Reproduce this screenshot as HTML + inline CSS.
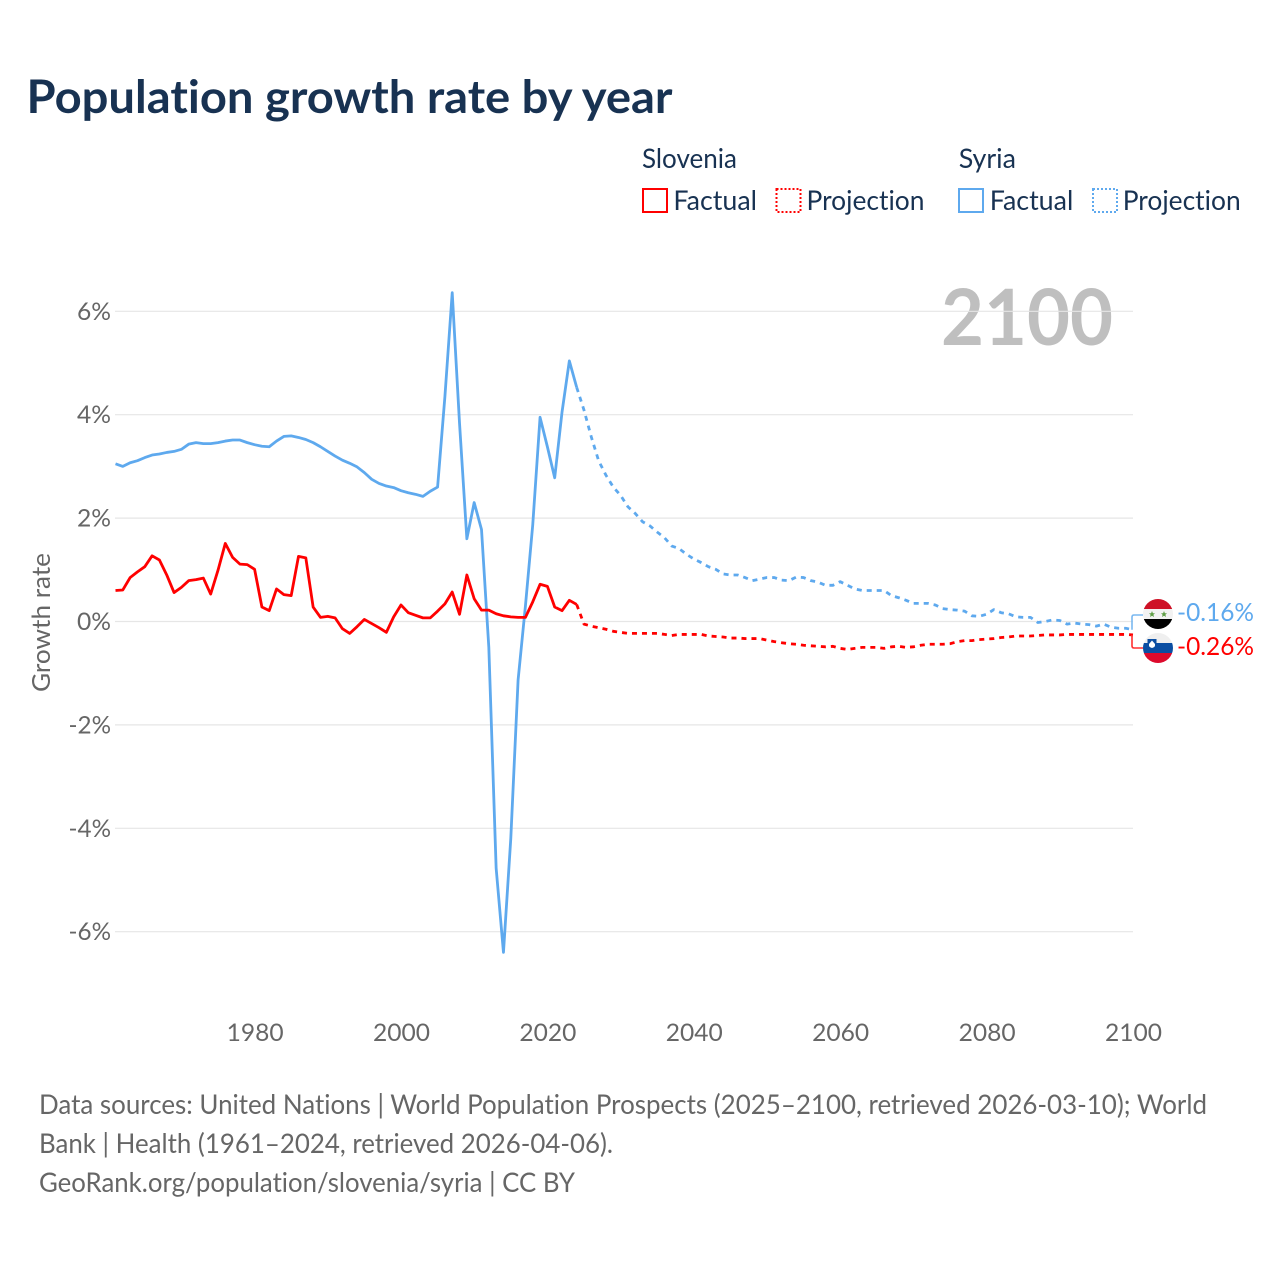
<!DOCTYPE html>
<html lang="en">
<head>
<meta charset="utf-8">
<title>Population growth rate by year</title>
<style>
  html, body { margin: 0; padding: 0; background: #fff; }
  svg { display: block; }
  text { font-family: "Lato", "Carlito", "Liberation Sans", sans-serif; font-variant-ligatures: none; }
</style>
</head>
<body>
<svg id="chart" xmlns="http://www.w3.org/2000/svg" width="1280" height="1280" viewBox="0 0 1280 1280">
  <rect width="1280" height="1280" fill="#ffffff"/>
  <text x="26.5" y="113" font-size="46" font-weight="700" fill="#183252" textLength="646" lengthAdjust="spacingAndGlyphs">Population growth rate by year</text>

  <g font-size="27" fill="#183252">
    <text x="642" y="168" textLength="95" lengthAdjust="spacingAndGlyphs">Slovenia</text>
    <rect x="643" y="189" width="24" height="23" fill="none" stroke="#ff0000" stroke-width="2"/>
    <text x="673.4" y="210" textLength="83.6" lengthAdjust="spacingAndGlyphs">Factual</text>
    <rect x="776.5" y="189" width="24" height="23" fill="none" stroke="#ff0000" stroke-width="2" stroke-dasharray="2 2"/>
    <text x="806.5" y="210" textLength="118" lengthAdjust="spacingAndGlyphs">Projection</text>
    <text x="958.7" y="168" textLength="57.3" lengthAdjust="spacingAndGlyphs">Syria</text>
    <rect x="959" y="189" width="24" height="23" fill="none" stroke="#5ea9ee" stroke-width="2"/>
    <text x="989.7" y="210" textLength="83.6" lengthAdjust="spacingAndGlyphs">Factual</text>
    <rect x="1093" y="189" width="24" height="23" fill="none" stroke="#5ea9ee" stroke-width="2" stroke-dasharray="2 2"/>
    <text x="1122.7" y="210" textLength="118" lengthAdjust="spacingAndGlyphs">Projection</text>
  </g>

  <text x="941" y="345" font-size="78" font-weight="700" fill="#bfbfbf" textLength="172" lengthAdjust="spacingAndGlyphs">2100</text>
  <g id="grid"></g>
  <g id="y-ticks"></g>
  <g id="x-ticks"></g>
  <text transform="translate(50 622.5) rotate(-90)" text-anchor="middle" font-size="25" fill="#666666" textLength="139" lengthAdjust="spacingAndGlyphs">Growth rate</text>

  <g id="series"></g>
  <g id="connectors"></g>

  <defs>
    <clipPath id="flag-clip-syria"><circle cx="1158" cy="614" r="15"/></clipPath>
    <clipPath id="flag-clip-slovenia"><circle cx="1158" cy="648" r="15"/></clipPath>
  </defs>
  <g clip-path="url(#flag-clip-syria)">
    <rect x="1143" y="599" width="30" height="10" fill="#ce1126"/>
    <rect x="1143" y="609" width="30" height="10" fill="#f2f2f2"/>
    <rect x="1143" y="619" width="30" height="10" fill="#000000"/>
    <polygon points="1152,611 1152.9,613.2 1155,613.3 1153.4,614.8 1154,617 1152,615.8 1150,617 1150.6,614.8 1149,613.3 1151.1,613.2" fill="#5f9e46"/>
    <polygon points="1164,611 1164.9,613.2 1167,613.3 1165.4,614.8 1166,617 1164,615.8 1162,617 1162.6,614.8 1161,613.3 1163.1,613.2" fill="#5f9e46"/>
  </g>
  <g clip-path="url(#flag-clip-slovenia)">
    <rect x="1143" y="633" width="30" height="10" fill="#efefef"/>
    <rect x="1143" y="643" width="30" height="10" fill="#0b4ea2"/>
    <rect x="1143" y="653" width="30" height="10" fill="#dd0a2c"/>
    <path d="M1147.5 639 H1156.5 V645 Q1156.5 648.5 1152 650 Q1147.5 648.5 1147.5 645 Z" fill="#0b4ea2"/>
    <path d="M1149 644 L1152 640.5 L1155 644 V645.5 Q1155 647.2 1152 648 Q1149 647.2 1149 645.5 Z" fill="#ffffff"/>
  </g>
  <text id="label-syria" x="1177" y="621" font-size="25" fill="#5ea9ee" textLength="77" lengthAdjust="spacingAndGlyphs"></text>
  <text id="label-slovenia" x="1177" y="655" font-size="25" fill="#ff0000" textLength="77" lengthAdjust="spacingAndGlyphs"></text>

  <g font-size="27" fill="#666666">
    <text x="39" y="1114" textLength="1168" lengthAdjust="spacingAndGlyphs">Data sources: United Nations | World Population Prospects (2025–2100, retrieved 2026-03-10); World</text>
    <text x="39" y="1153" textLength="574" lengthAdjust="spacingAndGlyphs">Bank | Health (1961–2024, retrieved 2026-04-06).</text>
    <text x="39" y="1192" textLength="536" lengthAdjust="spacingAndGlyphs">GeoRank.org/population/slovenia/syria | CC BY</text>
  </g>
</svg>

<script>
const xTickYears = [1980, 2000, 2020, 2040, 2060, 2080, 2100];
const yTickValues = [-6, -4, -2, 0, 2, 4, 6];
const factualStartYear = 1961;
const projectionStartYear = 2024;

const syriaFactual = [3.05,3.00,3.07,3.11,3.17,3.22,3.24,3.27,3.29,3.33,3.43,3.46,3.44,3.44,3.46,3.49,3.51,3.51,3.46,3.42,3.39,3.38,3.49,3.58,3.59,3.56,3.52,3.46,3.38,3.29,3.20,3.12,3.06,2.99,2.88,2.75,2.67,2.62,2.59,2.53,2.49,2.46,2.42,2.52,2.60,4.35,6.36,3.83,1.60,2.30,1.78,-0.50,-4.77,-6.40,-4.20,-1.13,0.30,1.87,3.95,3.38,2.78,4.05,5.04,4.53];
const syriaProjection = [4.53,4.09,3.57,3.11,2.83,2.60,2.44,2.22,2.09,1.93,1.85,1.73,1.62,1.46,1.41,1.30,1.21,1.14,1.06,1.01,0.92,0.90,0.90,0.85,0.79,0.82,0.85,0.85,0.80,0.79,0.86,0.85,0.79,0.76,0.70,0.70,0.77,0.70,0.63,0.60,0.60,0.60,0.60,0.50,0.46,0.41,0.35,0.35,0.35,0.32,0.25,0.23,0.22,0.20,0.11,0.10,0.14,0.23,0.17,0.15,0.09,0.08,0.08,-0.02,0.00,0.03,0.02,-0.05,-0.03,-0.05,-0.06,-0.09,-0.05,-0.11,-0.13,-0.13,-0.16];
const sloveniaFactual = [0.60,0.61,0.85,0.96,1.06,1.27,1.19,0.90,0.56,0.66,0.79,0.81,0.84,0.53,0.99,1.51,1.24,1.11,1.10,1.01,0.28,0.21,0.63,0.52,0.50,1.26,1.23,0.28,0.08,0.10,0.07,-0.14,-0.23,-0.10,0.04,-0.04,-0.12,-0.21,0.09,0.32,0.17,0.12,0.07,0.07,0.20,0.34,0.57,0.14,0.90,0.44,0.22,0.22,0.15,0.11,0.09,0.08,0.08,0.38,0.72,0.68,0.28,0.21,0.41,0.33];
const sloveniaProjection = [0.33,-0.05,-0.09,-0.12,-0.15,-0.19,-0.21,-0.23,-0.23,-0.23,-0.23,-0.23,-0.25,-0.27,-0.25,-0.25,-0.25,-0.25,-0.28,-0.29,-0.30,-0.32,-0.32,-0.33,-0.33,-0.33,-0.36,-0.39,-0.41,-0.43,-0.44,-0.46,-0.47,-0.48,-0.49,-0.48,-0.52,-0.54,-0.52,-0.50,-0.50,-0.50,-0.52,-0.49,-0.48,-0.50,-0.49,-0.46,-0.44,-0.44,-0.44,-0.43,-0.39,-0.37,-0.37,-0.35,-0.34,-0.33,-0.31,-0.30,-0.28,-0.28,-0.28,-0.27,-0.26,-0.26,-0.26,-0.25,-0.25,-0.25,-0.25,-0.25,-0.25,-0.25,-0.25,-0.25,-0.26];

const NS = 'http://www.w3.org/2000/svg';
function xScale(year) { return 115.5 + (year - 1961) * 7.32; }
function yScale(value) { return 621.5 - value * 51.7; }
function makeEl(tag, parentId) {
  const el = document.createElementNS(NS, tag);
  document.getElementById(parentId).appendChild(el);
  return el;
}
function linePath(values, startYear) {
  return values.map(function (v, i) {
    return (i ? 'L' : 'M') + xScale(startYear + i).toFixed(2) + ' ' + yScale(v).toFixed(2);
  }).join(' ');
}

yTickValues.forEach(function (v) {
  const line = makeEl('line', 'grid');
  
  
  line.setAttribute('x1', 115);
  line.setAttribute('x2', 1133);
  line.setAttribute('y1', yScale(v));
  line.setAttribute('y2', yScale(v));
  line.setAttribute('stroke', '#e6e6e6');
  line.setAttribute('stroke-width', '1.2');

  const label = makeEl('text', 'y-ticks');
  
  
  label.setAttribute('x', 111);
  label.setAttribute('y', yScale(v) + 8.5);
  label.setAttribute('text-anchor', 'end');
  label.setAttribute('font-size', '24');
  label.setAttribute('fill', '#666666');
  label.setAttribute('textLength', v < 0 ? 42.5 : 34);
  label.setAttribute('lengthAdjust', 'spacingAndGlyphs');
  label.textContent = v + '%';
});

xTickYears.forEach(function (year) {
  const label = makeEl('text', 'x-ticks');
  
  
  label.setAttribute('x', xScale(year) + 0.5);
  label.setAttribute('y', 1041);
  label.setAttribute('text-anchor', 'middle');
  label.setAttribute('font-size', '24');
  label.setAttribute('fill', '#666666');
  label.setAttribute('textLength', 57);
  label.setAttribute('lengthAdjust', 'spacingAndGlyphs');
  label.textContent = String(year);
});

function drawSeries(name, values, startYear, color, dashed) {
  const path = makeEl('path', 'series');
  
  
  path.setAttribute('d', linePath(values, startYear));
  path.setAttribute('fill', 'none');
  path.setAttribute('stroke', color);
  path.setAttribute('stroke-width', '2.8');
  path.setAttribute('stroke-linejoin', 'round');
  if (dashed) path.setAttribute('stroke-dasharray', '5 5');
}
drawSeries('syria-factual-line', syriaFactual, factualStartYear, '#5ea9ee', false);
drawSeries('syria-projection-line', syriaProjection, projectionStartYear, '#5ea9ee', true);
drawSeries('slovenia-factual-line', sloveniaFactual, factualStartYear, '#ff0000', false);
drawSeries('slovenia-projection-line', sloveniaProjection, projectionStartYear, '#ff0000', true);

function drawConnector(name, lastValue, labelY, color) {
  const y0 = yScale(lastValue);
  const sign = labelY < y0 ? -1 : 1;
  const c = makeEl('path', 'connectors');
  
  
  c.setAttribute('d', 'M1132 ' + y0.toFixed(1) + ' V' + (labelY - sign * 2) + ' Q1132 ' + labelY + ' 1134 ' + labelY + ' H1143');
  c.setAttribute('fill', 'none');
  c.setAttribute('stroke', color);
  c.setAttribute('stroke-width', '1.6');
}
drawConnector('syria-connector', syriaProjection[syriaProjection.length - 1], 615, '#7ab8f0');
drawConnector('slovenia-connector', sloveniaProjection[sloveniaProjection.length - 1], 648, '#ff3030');

document.getElementById('label-syria').textContent = syriaProjection[syriaProjection.length - 1].toFixed(2) + '%';
document.getElementById('label-slovenia').textContent = sloveniaProjection[sloveniaProjection.length - 1].toFixed(2) + '%';
</script>
</body>
</html>
